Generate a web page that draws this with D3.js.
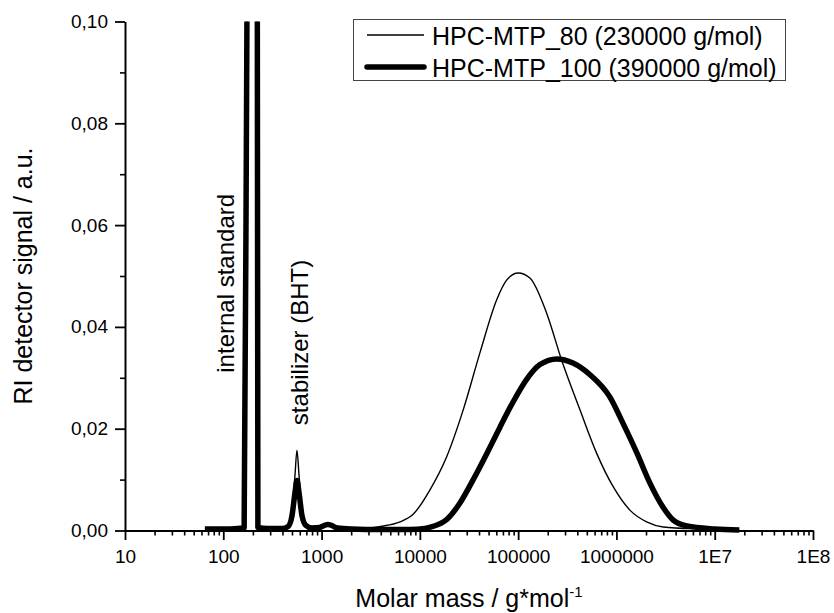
<!DOCTYPE html>
<html>
<head>
<meta charset="utf-8">
<script src="https://cdn.jsdelivr.net/npm/d3@7/dist/d3.min.js"></script>
<style>
  html, body { margin: 0; padding: 0; background: #fff; }
  svg { display: block; }
  text { font-family: "Liberation Sans", Arial, sans-serif; fill: #000; }
</style>
</head>
<body>
<svg id="chart" width="834" height="613"></svg>
<script>
// ---------- data ----------
const seriesNames = ["HPC-MTP_80 (230000 g/mol)", "HPC-MTP_100 (390000 g/mol)"];

// HPC-MTP_80 : molar mass (g/mol) and RI signal (a.u.)
const mass80 = [65, 100, 141, 163, 174, 195, 222, 225, 282, 398, 457, 501, 537, 562, 589, 631, 692, 794,
  955, 1072, 1161, 1259, 1445, 2000, 2818, 3981, 6281, 8551, 12677, 18750, 27606, 40832, 60395, 76384,
  100231, 131826, 194984, 276694, 425598, 628058, 926830, 1370882, 2027683, 2992265, 7079458, 17782794];
const signal80 = [0.0003, 0.0003, 0.0004, 0.0005, 0.10, 0.25, 0.10, 0.0006, 0.0004, 0.0004, 0.0008, 0.004,
  0.011, 0.0158, 0.011, 0.004, 0.0012, 0.0006,
  0.0007, 0.0011, 0.0013, 0.0011, 0.0006, 0.0003, 0.0004, 0.0008, 0.0017, 0.0032, 0.0080, 0.0145, 0.0237,
  0.0349, 0.0453, 0.0492, 0.0506, 0.0496, 0.0427, 0.0335, 0.0237, 0.0152, 0.0086, 0.0040, 0.0017, 0.0007,
  0.0003, 0.0001];

// HPC-MTP_100 : molar mass (g/mol) and RI signal (a.u.)
const mass100 = [65, 100, 141, 163, 174, 195, 222, 225, 282, 398, 457, 501, 537, 562, 589, 631, 692, 794,
  955, 1072, 1161, 1259, 1445, 2000, 3981, 7943, 11220, 13583, 18880, 25586, 34674, 48195, 65313, 88512,
  123027, 166725, 248313, 361410, 538270, 859014, 1164126, 1618080, 2192770, 2971666, 3758374, 5212006,
  10000000, 17782794];
const signal100 = [0.0003, 0.0003, 0.0004, 0.0005, 0.10, 0.25, 0.10, 0.0006, 0.0004, 0.0004, 0.0008, 0.003,
  0.0075, 0.0098, 0.0075, 0.003, 0.001, 0.0005,
  0.0006, 0.0010, 0.0012, 0.0010, 0.0005, 0.0003, 0.0002, 0.0002, 0.0004, 0.0008, 0.0022, 0.0054, 0.0099,
  0.0152, 0.0203, 0.0252, 0.0298, 0.0326, 0.0337, 0.0329, 0.0306, 0.0262, 0.0211, 0.0152, 0.0093, 0.0046,
  0.0021, 0.0009, 0.0003, 0.0001];

const xTickValues = [10, 100, 1000, 10000, 100000, 1000000, 10000000, 100000000];
const xTickLabels = ["10", "100", "1000", "10000", "100000", "1000000", "1E7", "1E8"];
const yTickValues = [0, 0.02, 0.04, 0.06, 0.08, 0.10];
const yTickLabels = ["0,00", "0,02", "0,04", "0,06", "0,08", "0,10"];
const yMinorValues = [0.01, 0.03, 0.05, 0.07, 0.09];

const annotations = [
  { text: "internal standard", mass: 128, value: 0.031 },
  { text: "stabilizer (BHT)", mass: 725, value: 0.0207 }
];

// ---------- layout ----------
const svg = d3.select("#chart");
const mLeft = 125, mRight = 813, mTop = 21.5, mBottom = 530.5;

const x = d3.scaleLog().domain([10, 1e8]).range([mLeft, mRight]);
const y = d3.scaleLinear().domain([0, 0.10]).range([mBottom, mTop]);

// clip
svg.append("defs").append("clipPath").attr("id", "plotclip")
  .append("rect").attr("x", mLeft).attr("y", mTop).attr("width", mRight - mLeft).attr("height", mBottom - mTop + 4);

// minor x ticks
const xMinor = [];
for (let d = 10; d < 1e8; d *= 10) for (let k = 2; k <= 9; k++) xMinor.push(d * k);

const axisFont = 19;

svg.append("g").attr("transform", `translate(0,${mBottom})`)
  .call(d3.axisBottom(x).tickValues(xMinor).tickSize(5).tickFormat(""))
  .call(g => g.select(".domain").remove())
  .call(g => g.selectAll("line").attr("stroke", "#000").attr("stroke-width", 1.6));

svg.append("g").attr("transform", `translate(0,${mBottom})`)
  .call(d3.axisBottom(x).tickValues(xTickValues).tickSize(9.5).tickSizeOuter(0).tickPadding(10)
    .tickFormat((d, i) => xTickLabels[i]))
  .call(g => g.select(".domain").attr("stroke", "#000").attr("stroke-width", 2))
  .call(g => g.selectAll("line").attr("stroke", "#000").attr("stroke-width", 1.8))
  .call(g => g.selectAll("text").attr("font-size", axisFont).attr("font-family", "Liberation Sans, Arial, sans-serif"));

svg.append("g").attr("transform", `translate(${mLeft},0)`)
  .call(d3.axisLeft(y).tickValues(yMinorValues).tickSize(5).tickFormat(""))
  .call(g => g.select(".domain").remove())
  .call(g => g.selectAll("line").attr("stroke", "#000").attr("stroke-width", 1.6));

svg.append("g").attr("transform", `translate(${mLeft},0)`)
  .call(d3.axisLeft(y).tickValues(yTickValues).tickSize(10).tickSizeOuter(0).tickPadding(7)
    .tickFormat((d, i) => yTickLabels[i]))
  .call(g => g.select(".domain").attr("stroke", "#000").attr("stroke-width", 2))
  .call(g => g.selectAll("line").attr("stroke", "#000").attr("stroke-width", 1.8))
  .call(g => g.selectAll("text").attr("font-size", axisFont).attr("font-family", "Liberation Sans, Arial, sans-serif"));

// axis titles
const xt = svg.append("text").attr("x", (mLeft + mRight) / 2).attr("y", 607)
  .attr("text-anchor", "middle").attr("font-size", 25);
xt.append("tspan").text("Molar mass / g*mol");
xt.append("tspan").attr("font-size", 15).attr("dy", -10).text("-1");

svg.append("text").attr("transform", `translate(32,${(mTop + mBottom) / 2}) rotate(-90)`)
  .attr("text-anchor", "middle").attr("font-size", 25).text("RI detector signal / a.u.");

// curves
const line = d3.line().x(d => x(d[0])).y(d => y(d[1])).curve(d3.curveMonotoneX);
const plot = svg.append("g").attr("clip-path", "url(#plotclip)");

const d80 = mass80.map((m, i) => [m, signal80[i]]);
const d100 = mass100.map((m, i) => [m, signal100[i]]);

plot.append("path").datum(d100).attr("d", line)
  .attr("fill", "none").attr("stroke", "#000").attr("stroke-width", 5.5).attr("stroke-linejoin", "round");
plot.append("path").datum(d80).attr("d", line)
  .attr("fill", "none").attr("stroke", "#000").attr("stroke-width", 1.4).attr("stroke-linejoin", "round");

// annotations
annotations.forEach(a => {
  svg.append("text")
    .attr("transform", `translate(${x(a.mass)},${y(a.value)}) rotate(-90)`)
    .attr("font-size", 24).text(a.text);
});

// legend
const lg = svg.append("g");
lg.append("rect").attr("x", 353.5).attr("y", 19.5).attr("width", 432).attr("height", 61)
  .attr("fill", "#fff").attr("stroke", "#444").attr("stroke-width", 1);
const legendWidths = [1.4, 5.5];
const legendY = [35, 67];
seriesNames.forEach((name, i) => {
  lg.append("line").attr("x1", 367).attr("x2", 424).attr("y1", legendY[i]).attr("y2", legendY[i])
    .attr("stroke", "#000").attr("stroke-width", legendWidths[i]).attr("stroke-linecap", i ? "round" : "butt");
  lg.append("text").attr("x", 432).attr("y", legendY[i] + 9.5).attr("font-size", 25).text(name);
});
</script>
</body>
</html>
